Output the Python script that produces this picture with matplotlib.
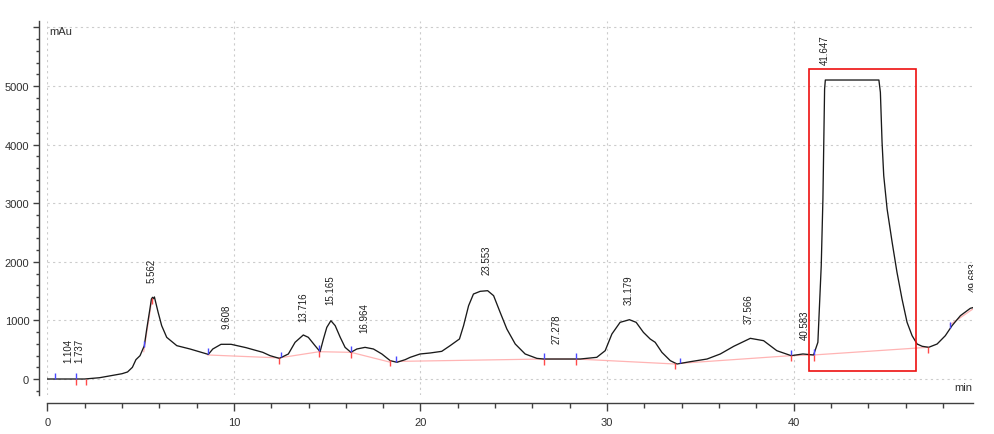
import numpy as np
import matplotlib
matplotlib.use('Agg')
import matplotlib.pyplot as plt
from matplotlib.patches import Rectangle
from matplotlib.ticker import MultipleLocator

# chromatogram trace (min, mAu)
t = [0.0, 1.0, 2.0, 2.8, 3.4, 4.0, 4.3, 4.56, 4.75, 4.97, 5.2, 5.33, 5.5,
     5.58, 5.64, 5.69, 5.74, 5.94, 6.13, 6.4, 6.94, 7.65, 8.63, 8.87, 9.31,
     9.85, 10.65, 11.55, 11.94, 12.44, 12.92, 13.28, 13.72, 13.99, 14.35,
     14.62, 14.8, 14.98, 15.2, 15.43, 15.7, 15.96, 16.27, 16.59, 17.03,
     17.48, 17.93, 18.38, 18.74, 19.18, 19.45, 19.98, 20.52, 21.14, 21.59,
     22.09, 22.31, 22.58, 22.84, 23.2, 23.6, 23.92, 24.27, 24.63, 25.08,
     25.61, 26.24, 26.6, 28.56, 29.45, 29.9, 30.26, 30.7, 31.2, 31.56,
     31.95, 32.31, 32.58, 32.94, 33.39, 33.75, 34.47, 35.36, 36.07, 36.79,
     37.68, 38.39, 39.1, 39.87, 40.5, 41.07, 41.3, 41.48, 41.57, 41.66,
     41.7, 44.57, 44.65, 44.74, 44.83, 45.01, 45.28, 45.54, 45.81, 46.08,
     46.35, 46.62, 46.89, 47.24, 47.69, 48.13, 48.49, 48.94, 49.47, 49.63]
mau = [0, 0, 0, 22, 56, 90, 120, 199, 330, 398, 569, 853, 1195,
       1365, 1394, 1370, 1400, 1138, 910, 711, 569, 512, 420, 512, 592,
       592, 535, 455, 398, 352, 427, 626, 751, 711, 569,
       466, 683, 881, 995, 910, 711, 540, 455, 512, 540,
       512, 427, 313, 285, 330, 370, 427, 444, 472, 569,
       683, 910, 1251, 1450, 1496, 1507, 1422, 1138, 853, 597,
       427, 352, 341, 341, 370, 483, 768, 967, 1012, 967,
       796, 683, 626, 455, 313, 256, 296, 341, 427, 558,
       694, 654, 483, 398, 427, 410, 626, 1934, 3072, 4949,
       5102, 5102, 4892, 4039, 3469, 2901, 2333, 1820, 1365, 967,
       739, 597, 558, 541, 597, 739, 910, 1081, 1206, 1220]

# peak labels (retention time text, label height)
peak_labels = ['1.104', '1.737', '5.562', '9.608', '13.716', '15.165', '16.964',
               '23.553', '27.278', '31.179', '37.566', '40.583', '41.647', '49.683']
label_y = [285, 285, 1650, 865, 995, 1280, 797, 1792, 614, 1280, 955, 683, 5375, 1507]

# integration marks
start_t = [0.43, 1.55, 5.17, 8.6, 12.55, 14.58, 16.28, 18.7, 26.6, 28.35,
           33.92, 39.84, 41.07, 48.4]
end_t = [1.55, 2.07, 5.61, 12.44, 14.58, 16.28, 18.36, 26.6, 28.32, 33.65,
         39.84, 41.07, 47.2]

# baseline segments
baselines = [
    [(5.17, 466), (5.61, 1365)],
    [(8.6, 410), (12.44, 360)],
    [(12.53, 365), (14.58, 466), (16.28, 455), (18.34, 290)],
    [(18.7, 300), (26.6, 341), (28.35, 341), (33.65, 256)],
    [(33.94, 268), (39.84, 398), (41.07, 410), (47.2, 541)],
    [(48.4, 930), (49.7, 1215)],
]

box_t = (40.82, 46.56)
box_mau = (131, 5290)

fs = 'Liberation Sans'

fig = plt.figure(figsize=(9.94, 4.35), dpi=100)
ax = fig.add_axes([47.3 / 994, 1 - 396 / 435, 926 / 994, 374 / 435])

ax.set_xlim(0, 49.63)
ax.set_ylim(-273, 6109)

for seg in baselines:
    xs, ys = zip(*seg)
    ax.plot(xs, ys, color='#ffb4b4', lw=0.9, zorder=2)

ax.plot(t, mau, color='#1a1a1a', lw=0.95, zorder=3)

sb = np.interp(start_t, t, mau)
eb = np.interp(end_t, t, mau)
ax.vlines(start_t, sb, sb + 100, colors='#4a4aff', lw=1.0, zorder=4)
ax.vlines(end_t, eb - 100, eb, colors='#ff4a4a', lw=1.0, zorder=4)

for lab, y in zip(peak_labels, label_y):
    ax.text(float(lab), y, lab, rotation=90, ha='center', va='bottom',
            fontsize=7, family=fs, color='#202020', clip_on=True)

ax.add_patch(Rectangle((box_t[0], box_mau[0]), box_t[1] - box_t[0],
                       box_mau[1] - box_mau[0], fill=False,
                       edgecolor='#ee1111', lw=1.2, zorder=5))

ax.text(0.12, 5940, 'mAu', ha='left', va='center', fontsize=8, family=fs,
        color='#303030')
ax.text(49.55, -128, 'min', ha='right', va='center', fontsize=8, family=fs,
        color='#303030')

# axes styling
for s in ['top', 'right']:
    ax.spines[s].set_visible(False)
ax.spines['left'].set_position(('outward', 6))
ax.spines['bottom'].set_position(('outward', 6))
for s in ['left', 'bottom']:
    ax.spines[s].set_color('#404040')
    ax.spines[s].set_linewidth(1.0)

ax.set_yticks(range(0, 7000, 1000))
ax.set_yticklabels(['0', '1000', '2000', '3000', '4000', '5000', ''])
ax.yaxis.set_minor_locator(MultipleLocator(200))
ax.set_xticks(range(0, 50, 10))
ax.xaxis.set_minor_locator(MultipleLocator(2))

ax.tick_params(axis='y', which='major', length=4, width=1, pad=3,
               color='#404040', labelsize=8)
ax.tick_params(axis='y', which='minor', length=2.4, width=1, color='#404040')
ax.tick_params(axis='x', which='major', length=5.5, width=1, pad=4,
               color='#404040', labelsize=8)
ax.tick_params(axis='x', which='minor', length=3.6, width=1, color='#404040')
for lbl in ax.get_xticklabels() + ax.get_yticklabels():
    lbl.set_family(fs)
    lbl.set_color('#303030')

ax.grid(True, which='major', color='#cccccc', linestyle=(0, (2, 3)), lw=0.8)
ax.set_axisbelow(True)

fig.savefig('out.png', dpi=100)
